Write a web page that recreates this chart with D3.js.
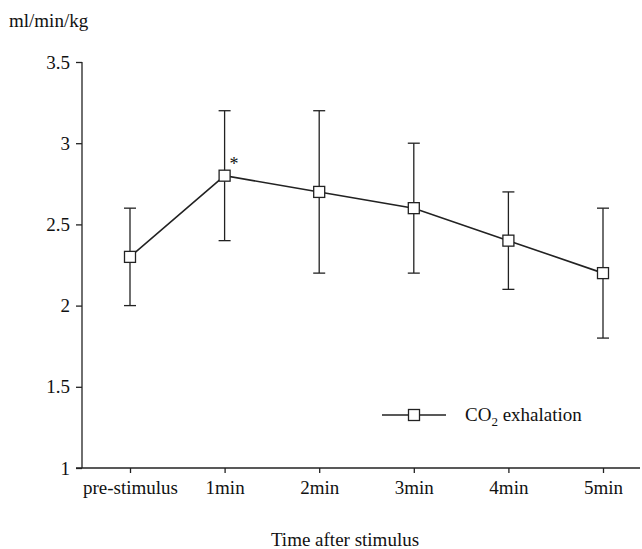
<!DOCTYPE html>
<html>
<head>
<meta charset="utf-8">
<script src="https://cdn.jsdelivr.net/npm/d3@7"></script>
<style>
  body { margin: 0; background: #fff; }
  text { font-family: "Liberation Serif", "Times New Roman", serif; fill: #111; }
</style>
</head>
<body>
<svg id="chart" width="642" height="549"></svg>
<script>
// --- Data ---
const categories = ["pre-stimulus", "1min", "2min", "3min", "4min", "5min"];
const means = [2.3, 2.8, 2.7, 2.6, 2.4, 2.2];
const lower = [2.0, 2.4, 2.2, 2.2, 2.1, 1.8];
const upper = [2.6, 3.2, 3.2, 3.0, 2.7, 2.6];
const yTicks = [1, 1.5, 2, 2.5, 3, 3.5];
const significant = [false, true, false, false, false, false];

// --- Layout ---
const svg = d3.select("#chart");
const plotLeft = 82, plotRight = 640, plotTop = 62, plotBottom = 468;
const fontSize = 19;

const x = d3.scalePoint().domain(categories).range([130, 603]);
const y = d3.scaleLinear().domain([1, 3.5]).range([plotBottom, plotTop]);

// --- Axes ---
const yAxis = svg.append("g")
  .attr("transform", `translate(${plotLeft},0)`)
  .call(d3.axisLeft(y).tickValues(yTicks).tickFormat(d3.format("")).tickSize(6).tickPadding(6));
yAxis.select(".domain").attr("d", `M0,${plotTop}V${plotBottom}`);

const xAxis = svg.append("g")
  .attr("transform", `translate(0,${plotBottom})`)
  .call(d3.axisBottom(x).tickSize(5).tickPadding(8));
xAxis.select(".domain").attr("d", `M${plotLeft - 6},0H${plotRight}`);

svg.selectAll(".tick text")
  .attr("font-size", fontSize)
  .attr("fill", "#111")
  .style("font-family", "Liberation Serif, serif");
svg.selectAll(".domain, .tick line").attr("stroke", "#222").attr("stroke-width", 1.3);

// --- Error bars ---
const points = categories.map((c, i) => ({ c, m: means[i], lo: lower[i], hi: upper[i], sig: significant[i] }));
const cap = 6;
const bars = svg.append("g").attr("stroke", "#222").attr("stroke-width", 1.3);
points.forEach(p => {
  const cx = x(p.c);
  bars.append("line").attr("x1", cx).attr("x2", cx).attr("y1", y(p.hi)).attr("y2", y(p.lo));
  bars.append("line").attr("x1", cx - cap).attr("x2", cx + cap).attr("y1", y(p.hi)).attr("y2", y(p.hi));
  bars.append("line").attr("x1", cx - cap).attr("x2", cx + cap).attr("y1", y(p.lo)).attr("y2", y(p.lo));
});

// --- Line ---
svg.append("path")
  .datum(points)
  .attr("fill", "none")
  .attr("stroke", "#222")
  .attr("stroke-width", 1.6)
  .attr("d", d3.line().x(d => x(d.c)).y(d => y(d.m)));

// --- Markers ---
const sq = 11;
svg.selectAll("rect.marker")
  .data(points)
  .enter()
  .append("rect")
  .attr("class", "marker")
  .attr("x", d => x(d.c) - sq / 2)
  .attr("y", d => y(d.m) - sq / 2)
  .attr("width", sq)
  .attr("height", sq)
  .attr("fill", "#fff")
  .attr("stroke", "#222")
  .attr("stroke-width", 1.3);

svg.selectAll("text.sig")
  .data(points.filter(d => d.sig))
  .enter()
  .append("text")
  .attr("class", "sig")
  .attr("x", d => x(d.c) + 5)
  .attr("y", d => y(d.m) - 6)
  .attr("font-size", 18)
  .text("*");

// --- Labels ---
svg.append("text")
  .attr("x", 9).attr("y", 27)
  .attr("font-size", fontSize)
  .text("ml/min/kg");

svg.append("text")
  .attr("x", 345).attr("y", 546)
  .attr("text-anchor", "middle")
  .attr("font-size", fontSize)
  .text("Time after stimulus");

// --- Legend ---
const lg = svg.append("g").attr("transform", "translate(382,415)");
lg.append("line").attr("x1", 0).attr("x2", 64).attr("stroke", "#222").attr("stroke-width", 1.3);
lg.append("rect").attr("x", 32 - sq / 2).attr("y", -sq / 2).attr("width", sq).attr("height", sq)
  .attr("fill", "#fff").attr("stroke", "#222").attr("stroke-width", 1.3);
const lt = lg.append("text").attr("x", 83).attr("y", 6).attr("font-size", fontSize);
lt.append("tspan").text("CO");
lt.append("tspan").attr("font-size", 13).attr("dy", 5).text("2");
lt.append("tspan").attr("dy", -5).text(" exhalation");
</script>
</body>
</html>
